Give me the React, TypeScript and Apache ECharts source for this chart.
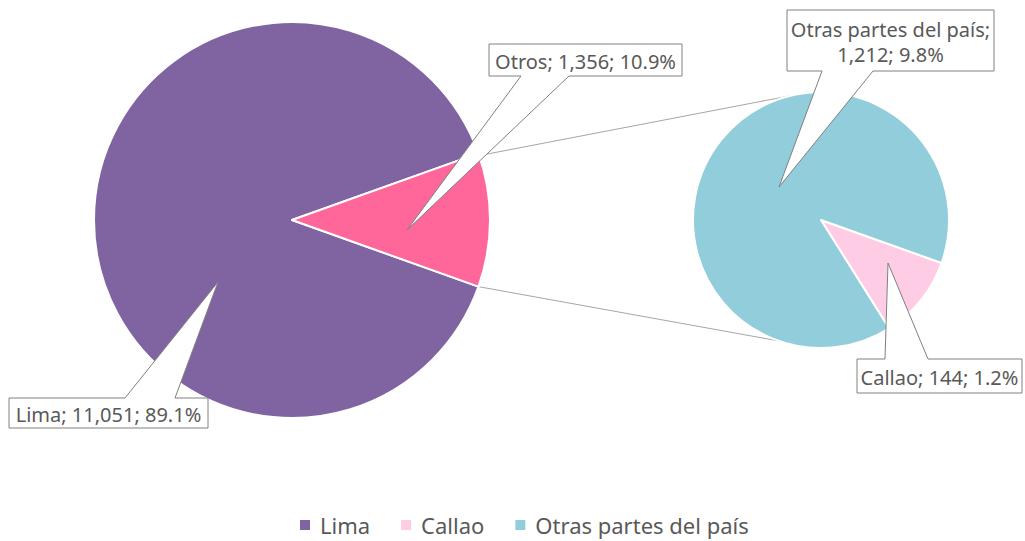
import React, { useEffect, useRef } from "react";
import * as echarts from "echarts";

// ---- data ----
const mainCategories = ["Lima", "Otros"];
const mainValues = [11051, 1356];
const secondCategories = ["Callao", "Otras partes del país"];
const secondValues = [144, 1212];
const legendItems = ["Lima", "Callao", "Otras partes del país"];

// ---- styles / layout ----
const COLORS: Record<string, string> = {
  Lima: "#8064A2",
  Otros: "#FF6699",
  Callao: "#FFCCE6",
  "Otras partes del país": "#92CDDC",
};
const TEXT = "#595959";
const FONT = "Noto Sans";
const MAIN_C = [292, 220];
const MAIN_R = 198;
const SEC_C = [821, 220];
const SEC_R = 128;

type Callout = {
  name: string;
  box: [number, number, number, number];
  edge: "top" | "bottom";
  wedge: [number, number];
  apex: [number, number];
  multiline?: boolean;
};
const CALLOUTS: Callout[] = [
  { name: "Lima", box: [9, 398, 208, 428], edge: "top", wedge: [125, 175], apex: [218, 282] },
  { name: "Otros", box: [489, 44, 682, 76], edge: "bottom", wedge: [521, 569], apex: [407, 230] },
  { name: "Otras partes del país", box: [787, 10, 994, 71], edge: "bottom", wedge: [822, 873], apex: [779, 187], multiline: true },
  { name: "Callao", box: [857, 359, 1022, 393], edge: "top", wedge: [885, 928], apex: [888, 263] },
];

export default function App() {
  const ref = useRef<HTMLDivElement>(null);
  useEffect(() => {
    if (!ref.current) return;
    const chart = echarts.init(ref.current, undefined, { renderer: "svg" });
    const total = mainValues[0] + secondValues.reduce((a, b) => a + b, 0);
    const valueOf: Record<string, number> = {};
    mainCategories.forEach((c, i) => (valueOf[c] = mainValues[i]));
    secondCategories.forEach((c, i) => (valueOf[c] = secondValues[i]));

    const otrosSpan = (mainValues[1] / (mainValues[0] + mainValues[1])) * 360;
    const mainStart = -otrosSpan / 2;
    const secStart = -19.6;

    const pt = (c: number[], r: number, deg: number) => [
      c[0] + r * Math.cos((deg * Math.PI) / 180),
      c[1] - r * Math.sin((deg * Math.PI) / 180),
    ];

    const graphics: any[] = [];
    // series lines
    const upA = pt(MAIN_C, MAIN_R + 8, otrosSpan / 2 - 1);
    const upB = pt(SEC_C, SEC_R, 104);
    const loA = pt(MAIN_C, MAIN_R, -otrosSpan / 2);
    const loB = pt(SEC_C, SEC_R, 251);
    [[upA, upB], [loA, loB]].forEach(([a, b]) =>
      graphics.push({
        type: "line",
        z: 0,
        shape: { x1: a[0], y1: a[1], x2: b[0], y2: b[1] },
        style: { stroke: "#A6A6A6", lineWidth: 1 },
      })
    );

    CALLOUTS.forEach((c) => {
      const [x0, y0, x1, y1] = c.box;
      const pts =
        c.edge === "top"
          ? [[x0, y0], [c.wedge[0], y0], c.apex, [c.wedge[1], y0], [x1, y0], [x1, y1], [x0, y1]]
          : [[x0, y0], [x1, y0], [x1, y1], [c.wedge[1], y1], c.apex, [c.wedge[0], y1], [x0, y1]];
      const v = valueOf[c.name];
      const pct = ((v / total) * 100).toFixed(1) + "%";
      const vs = v.toLocaleString("en-US");
      const txt = c.multiline ? `${c.name};\n${vs}; ${pct}` : `${c.name}; ${vs}; ${pct}`;
      graphics.push({
        type: "polygon",
        z: 100,
        shape: { points: pts },
        style: { fill: "#FFFFFF", stroke: "#808080", lineWidth: 1 },
      });
      graphics.push({
        type: "text",
        z: 101,
        x: (x0 + x1) / 2,
        y: (y0 + y1) / 2 + 1,
        style: {
          text: txt,
          fill: TEXT,
          fontSize: 20,
          fontFamily: FONT,
          align: "center",
          verticalAlign: "middle",
          lineHeight: 25,
        },
      });
    });

    chart.setOption({
      animation: false,
      backgroundColor: "#FFFFFF",
      legend: {
        data: legendItems,
        left: 293,
        top: 509,
        icon: "rect",
        itemWidth: 12,
        itemHeight: 12,
        itemGap: 29,
        textStyle: { color: TEXT, fontSize: 22, fontFamily: FONT, padding: [0, 0, 0, 4] },
        selectedMode: false,
      },
      series: [
        {
          type: "pie",
          center: MAIN_C,
          radius: MAIN_R,
          startAngle: mainStart,
          clockwise: true,
          label: { show: false },
          labelLine: { show: false },
          emphasis: { disabled: true },
          itemStyle: { borderColor: "#FFFFFF", borderWidth: 2 },
          data: mainCategories.map((n, i) => ({
            name: n,
            value: mainValues[i],
            itemStyle: { color: COLORS[n] },
          })),
        },
        {
          type: "pie",
          center: SEC_C,
          radius: SEC_R,
          startAngle: secStart,
          clockwise: true,
          label: { show: false },
          labelLine: { show: false },
          emphasis: { disabled: true },
          itemStyle: { borderColor: "#FFFFFF", borderWidth: 2 },
          data: secondCategories.map((n, i) => ({
            name: n,
            value: secondValues[i],
            itemStyle: { color: COLORS[n] },
          })),
        },
      ],
      graphic: graphics,
    });
    return () => chart.dispose();
  }, []);
  return (
    <div
      ref={ref}
      style={{ position: "fixed", left: 0, top: 0, width: 1025, height: 541 }}
    />
  );
}
